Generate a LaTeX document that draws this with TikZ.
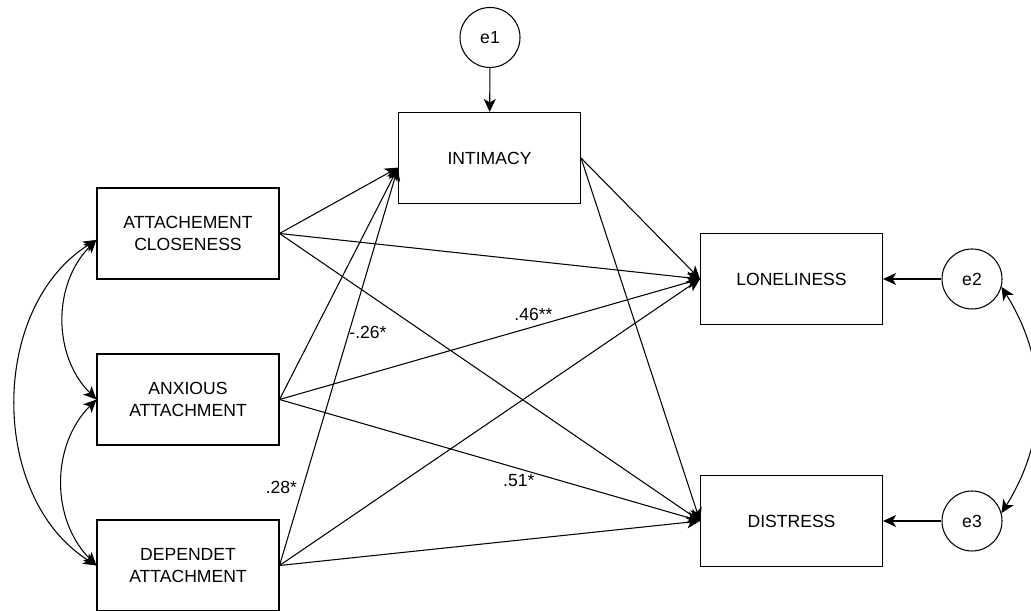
\documentclass[tikz,border=0pt]{standalone}
\usepackage{fontspec}
\setmainfont{Liberation Sans}
\usetikzlibrary{arrows.meta}

\begin{document}
\begin{tikzpicture}[
        var/.style={draw, line width=0.6pt, minimum width=3.64cm, minimum height=1.82cm, inner sep=0pt, align=center, font=\fontsize{10}{12.5}\selectfont},
        err/.style={draw, circle, line width=0.6pt, minimum size=1.2cm, inner sep=0pt, font=\fontsize{10}{12}\selectfont},
        arr/.style={line width=0.6pt, -{Stealth[length=2.6mm,width=2.4mm,inset=0.7mm]}},
        cov/.style={line width=0.6pt, {Stealth[length=2.6mm,width=2.4mm,inset=0.7mm]}-{Stealth[length=2.6mm,width=2.4mm,inset=0.7mm]}},
        coef/.style={font=\fontsize{10}{12}\selectfont, inner sep=3pt}
    ]
        \useasboundingbox (0,0) rectangle (20.62,12.22);
        % observed variables
        \node[var] (attc) at (3.76,7.55) {ATTACHEMENT\\CLOSENESS};
        \node[var] (anx) at (3.76,4.23) {ANXIOUS\\ATTACHMENT};
        \node[var] (dep) at (3.76,0.91) {DEPENDET\\ATTACHMENT};
        \node[var] (inti) at (9.79,9.06) {INTIMACY};
        \node[var] (lone) at (15.83,6.64) {LONELINESS};
        \node[var] (dist) at (15.83,1.80) {DISTRESS};
        % residuals
        \node[err] (e1) at (9.80,11.47) {e1};
        \node[err] (e2) at (19.44,6.64) {e2};
        \node[err] (e3) at (19.44,1.80) {e3};
        % paths to intimacy
        \draw[arr] (attc.east) -- (inti.186);
        \draw[arr] (anx.east) -- (inti.186);
        \draw[arr] (dep.east) -- node[coef, pos=.197, anchor=east]{.28*} node[coef, pos=.586, anchor=west, inner sep=0pt]{-.26*} (inti.186);
        % paths to outcomes
        \draw[arr] (attc.east) -- (lone.west);
        \draw[arr] (attc.east) -- (dist.west);
        \draw[arr] (anx.east) -- node[coef, pos=.604, anchor=south]{.46**} (lone.west);
        \draw[arr] (anx.east) -- node[coef, pos=.569, anchor=north]{.51*} (dist.west);
        \draw[arr] (dep.east) -- (lone.west);
        \draw[arr] (dep.east) -- (dist.west);
        \draw[arr] (inti.east) -- (lone.west);
        \draw[arr] (inti.east) -- (dist.west);
        % residual arrows
        \draw[arr] (e1) -- (inti);
        \draw[arr] (e2) -- (lone);
        \draw[arr] (e3) -- (dist);
        % covariances
        \draw[cov] (attc.184) to[bend right=45] (anx.west);
        \draw[cov] (anx.west) to[bend right=45] (dep.west);
        \draw[cov] (attc.184) to[bend right=58] (dep.west);
        \draw[cov] (e2.-15) to[bend left=32] (e3.15);
    \end{tikzpicture}
\end{document}
